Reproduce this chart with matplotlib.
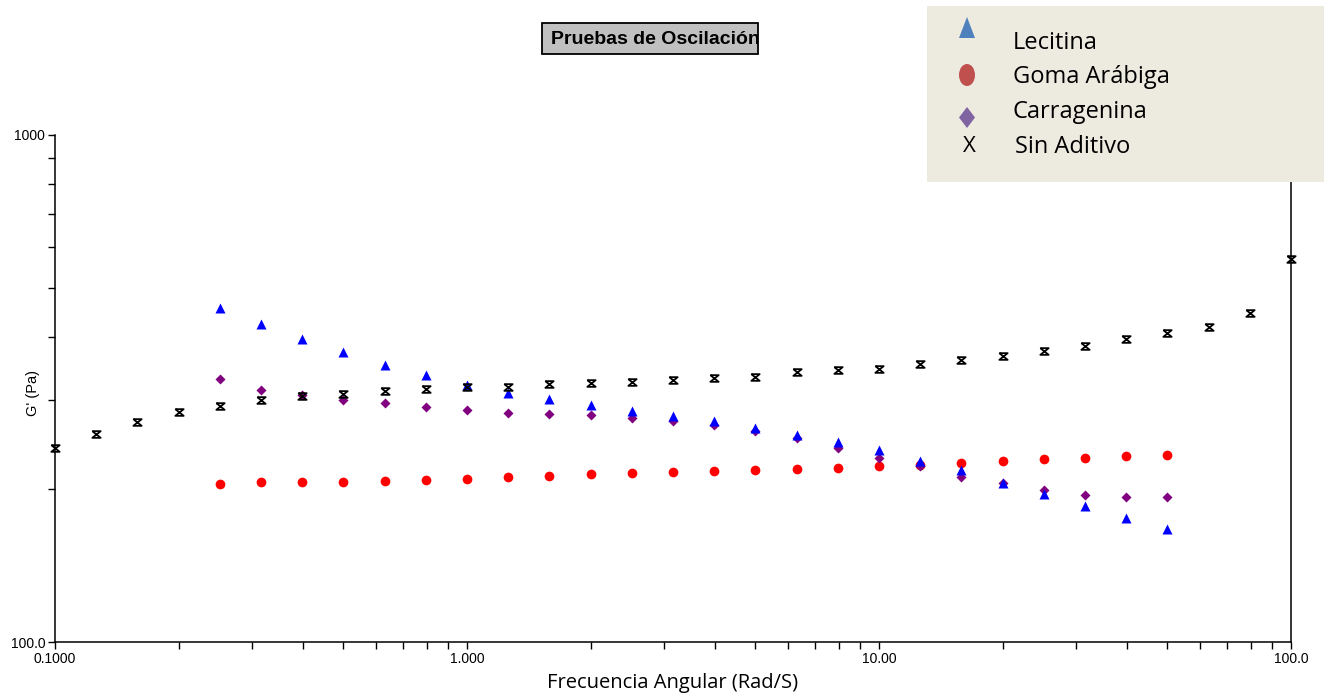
import matplotlib
matplotlib.use('Agg')
import matplotlib.pyplot as plt
from matplotlib.path import Path
from matplotlib.patches import Ellipse, Polygon, Rectangle
from matplotlib.ticker import FixedLocator, FixedFormatter, LogLocator, NullFormatter

# frecuencia angular (rad/s), 10 puntos por decada
freq = [0.1000, 0.1259, 0.1585, 0.1995, 0.2512, 0.3162, 0.3981, 0.5012, 0.6310, 0.7943,
        1.000, 1.259, 1.585, 1.995, 2.512, 3.162, 3.981, 5.012, 6.310, 7.943,
        10.00, 12.59, 15.85, 19.95, 25.12, 31.62, 39.81, 50.12, 63.10, 79.43, 100.0]

# G' (Pa)
sin_aditivo = [241.3, 257.2, 271.6, 284.1, 292.1, 300.1, 305.7, 308.5, 312.7, 315.5,
               318.4, 318.4, 322.7, 324.2, 325.7, 328.7, 331.7, 333.2, 340.8, 344.0,
               345.6, 353.5, 360.0, 366.6, 375.0, 383.6, 396.0, 407.0, 418.0, 446.0, 569.0]

freq_add = freq[4:28]   # 0.25 .. 50 rad/s

lecitina = [456.0, 424.0, 396.0, 373.3, 351.9, 336.3, 321.2, 309.9, 301.5, 293.4,
            285.5, 279.1, 272.9, 264.3, 256.0, 248.0, 239.1, 227.5, 218.4, 205.9,
            195.8, 185.4, 175.7, 167.1]

goma_arabiga = [204.9, 206.8, 206.8, 206.8, 207.8, 208.7, 209.7, 211.5, 212.5, 214.5,
                215.4, 216.4, 217.4, 218.4, 219.4, 220.4, 222.4, 223.4, 225.5, 227.5,
                229.6, 230.6, 232.8, 233.8]

carragenina = [330.2, 314.1, 307.1, 300.1, 296.1, 290.7, 286.8, 283.0, 281.7, 280.4,
               276.6, 272.9, 267.9, 260.8, 252.5, 241.3, 230.6, 222.4, 211.5, 205.9,
               199.5, 195.0, 193.2, 193.2]

legend_labels = ['Lecitina', 'Goma Arábiga', 'Carragenina', 'Sin Aditivo']

# marcador tipo reloj de arena (X con barras)
hourglass = Path([(-1, 0.8), (1, 0.8), (-1, -0.8), (1, -0.8), (-1, 0.8)],
                 [Path.MOVETO, Path.LINETO, Path.LINETO, Path.LINETO, Path.LINETO])

W, H = 1324, 694
fig = plt.figure(figsize=(W / 100, H / 100), dpi=100)
ax = fig.add_axes([55 / W, 1 - 642 / H, (1291 - 55) / W, (642 - 135) / H])
ax.set_xscale('log')
ax.set_yscale('log')
ax.set_xlim(0.1, 100)
ax.set_ylim(100, 1000)

ax.plot(freq_add, goma_arabiga, 'o', color='#ff0000', ms=7, mec='none', clip_on=False)
ax.plot(freq_add, carragenina, 'D', color='#800080', ms=5, mec='none', clip_on=False)
ax.plot(freq_add, lecitina, '^', color='#0000ff', ms=7.5, mec='none', clip_on=False)
ax.plot(freq, sin_aditivo, ls='none', marker=hourglass, ms=6, mfc='none', mec='black',
        mew=1.3, clip_on=False, zorder=3)

ax.spines['top'].set_visible(False)
for s in ['left', 'bottom', 'right']:
    ax.spines[s].set_linewidth(1.1)

ax.xaxis.set_major_locator(FixedLocator([0.1, 1, 10, 100]))
ax.xaxis.set_major_formatter(FixedFormatter(['0.1000', '1.000', '10.00', '100.0']))
ax.xaxis.set_minor_locator(LogLocator(base=10, subs=range(2, 10)))
ax.xaxis.set_minor_formatter(NullFormatter())
ax.yaxis.set_major_locator(FixedLocator([100, 1000]))
ax.yaxis.set_major_formatter(FixedFormatter(['100.0', '1000']))
ax.yaxis.set_minor_locator(LogLocator(base=10, subs=range(2, 10)))
ax.yaxis.set_minor_formatter(NullFormatter())
ax.tick_params(which='both', direction='out', length=5, width=1, labelsize=10, pad=2)
ax.tick_params(axis='y', which='both', right=False)
for lab in ax.get_xticklabels() + ax.get_yticklabels():
    lab.set_fontfamily('Liberation Sans')

ax.set_xlabel('Frecuencia Angular (Rad/S)', fontfamily='Open Sans', fontsize=14.5, labelpad=5)
ax.set_ylabel("G' (Pa)", fontfamily='Liberation Sans', fontsize=10.5)
ax.yaxis.set_label_coords((40 - 55) / 1236, (642 - 393) / 507)

# titulo en recuadro gris
title_box = Rectangle((542 / W, 1 - 54 / H), 216 / W, 31 / H, transform=fig.transFigure,
                      fc='#c0c0c0', ec='black', lw=1.3)
fig.patches.append(title_box)
title = fig.text(655 / W, 1 - 39 / H, 'Pruebas de Oscilación', ha='center', va='center',
                 fontfamily='Liberation Sans', fontweight='bold', fontsize=14)
title.set_clip_path(title_box)

# leyenda
lax = fig.add_axes([927 / W, 1 - 182 / H, (W - 927) / W, (182 - 6) / H], zorder=5)
lax.set_facecolor('#edeae0')
lax.set_xlim(927, W)
lax.set_ylim(182, 6)
lax.set_xticks([])
lax.set_yticks([])
for s in lax.spines.values():
    s.set_visible(False)
lax.add_patch(Polygon([(959, 38), (975, 38), (967, 17)], closed=True, fc='#4f81bd', ec='none'))
lax.add_patch(Ellipse((967, 75), 16, 22, fc='#c0504d', ec='none'))
lax.add_patch(Polygon([(967, 107), (975, 117.5), (967, 128), (959, 117.5)], closed=True,
                      fc='#8064a2', ec='none'))
lax.text(969, 147, 'X', ha='center', va='center', fontfamily='Open Sans', fontsize=16)
text_x = [1013, 1013, 1013, 1015]
text_y = [43, 77, 112, 147]
for lab, tx, ty in zip(legend_labels, text_x, text_y):
    lax.text(tx, ty, lab, ha='left', va='center', fontfamily='Open Sans', fontsize=17)

fig.savefig('out.png', dpi=100)
